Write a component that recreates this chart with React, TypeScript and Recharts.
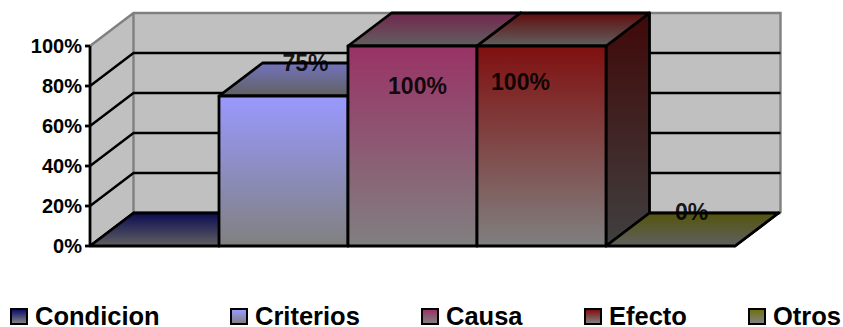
import React from "react";
import { BarChart, Bar, XAxis, YAxis, Legend, ReferenceArea, LabelList } from "recharts";

const seriesNames = ["Condicion", "Criterios", "Causa", "Efecto", "Otros"];
const seriesValues = [0, 75, 100, 100, 0];
const seriesColors = ["#10106e", "#9999ff", "#993366", "#801010", "#707010"];
const yTicks = [0, 20, 40, 60, 80, 100];

// Label nudges from the centre of each bar's front edge, in pixels.
const labelShiftX = [0, 22, 5, -21, 21];
const labelShiftY = [0, -33, 40, 36, -34];
// The first series sits behind its neighbour and carries no visible label.
const labelShown = [false, true, true, true, true];
// Left edge of each legend entry, in pixels.
const legendLeft = [10, 230, 421, 584, 748];

const row: Record<string, number | string> = { name: "Evaluacion" };
seriesNames.forEach((n, i) => {
  row[n] = seriesValues[i];
});
const chartData = [row];

const DEPTH_X = 43.5;
const DEPTH_Y = 33;
const FONT = "'Liberation Sans', Arial, sans-serif";
const EDGE = 2.8;

function scaleColor(hex: string, k: number) {
  const v = parseInt(hex.slice(1), 16);
  const c = [(v >> 16) & 255, (v >> 8) & 255, v & 255].map((p) => Math.round(p * k));
  return `rgb(${c.join(",")})`;
}

// Back wall, side wall and their gridlines, all sized from the plot's value range.
function Walls(props: any) {
  const { x, y, width, height } = props;
  const bx = x + DEPTH_X;
  const by = y - DEPTH_Y;
  return (
    <g>
      <polygon points={`${bx},${by} ${bx + width},${by} ${bx + width},${by + height} ${bx},${by + height}`} fill="#c0c0c0" />
      <polygon points={`${x},${y} ${bx},${by} ${bx},${by + height} ${x},${y + height}`} fill="#c0c0c0" />
      <path
        d={`M${x},${y} L${bx},${by} L${bx + width},${by} L${bx + width},${by + height} M${bx},${by} L${bx},${by + height}`}
        fill="none"
        stroke="#808080"
        strokeWidth={2.4}
      />
      {yTicks.slice(0, -1).map((t) => {
        const ty = y + height * (1 - t / 100);
        return (
          <path
            key={t}
            d={`M${x},${ty} L${bx},${ty - DEPTH_Y} L${bx + width},${ty - DEPTH_Y}`}
            fill="none"
            stroke="#000"
            strokeWidth={2.4}
          />
        );
      })}
    </g>
  );
}

// Extruded column: front face, top face and right-hand side face.
function Column(props: any) {
  const { x, y, width, height, index } = props;
  const r = x + width;
  const b = y + height;
  return (
    <g stroke="#000" strokeWidth={EDGE} strokeLinejoin="round">
      <polygon
        points={`${r},${y} ${r + DEPTH_X},${y - DEPTH_Y} ${r + DEPTH_X},${b - DEPTH_Y} ${r},${b}`}
        fill={`url(#side${index})`}
      />
      <polygon
        points={`${x},${y} ${x + DEPTH_X},${y - DEPTH_Y} ${r + DEPTH_X},${y - DEPTH_Y} ${r},${y}`}
        fill={`url(#top${index})`}
      />
      {height > 0 && <rect x={x} y={y} width={width} height={height} fill={`url(#front${index})`} />}
    </g>
  );
}

function makeValueLabel(index: number) {
  return function ValueLabel(props: any) {
    const { x, y, width, value } = props;
    return (
      <text
        x={x + width / 2 + labelShiftX[index]}
        y={y + labelShiftY[index]}
        textAnchor="middle"
        dominantBaseline="central"
        fontFamily={FONT}
        fontWeight="bold"
        fontSize={23}
        fill="#000"
        fillOpacity={0.9}
      >
        {value}%
      </text>
    );
  };
}

function LegendRow(props: any) {
  const { payload } = props;
  return (
    <div
      style={{
        position: "relative",
        height: 20,
        fontFamily: FONT,
        fontWeight: "bold",
        fontSize: 25.5,
        color: "#000",
        lineHeight: "20px",
      }}
    >
      {(payload || []).map((entry: any, i: number) => (
        <div
          key={entry.value}
          style={{ position: "absolute", left: legendLeft[i], top: 0, height: 20, display: "flex", alignItems: "center" }}
        >
          <span
            style={{
              display: "inline-block",
              boxSizing: "border-box",
              width: 18,
              height: 17,
              marginRight: 7,
              border: "2.5px solid #000",
              background: `linear-gradient(${entry.color}, #808080)`,
            }}
          />
          {entry.value}
        </div>
      ))}
    </div>
  );
}

export default function App() {
  return (
    <div style={{ position: "absolute", left: 0, top: 0, width: 843, height: 327, overflow: "hidden" }}>
      <BarChart
        width={843}
        height={327}
        data={chartData}
        margin={{ top: 46, right: 106, bottom: 61, left: 0 }}
        barCategoryGap={0}
        barGap={0}
      >
        <defs>
          {seriesColors.map((c, i) => (
            <React.Fragment key={i}>
              <linearGradient id={`front${i}`} x1="0" y1="0" x2="0" y2="1">
                <stop offset="0" stopColor={c} />
                <stop offset="1" stopColor="#808080" />
              </linearGradient>
              <linearGradient id={`top${i}`} x1="0" y1="0" x2="0" y2="1">
                <stop offset="0" stopColor={scaleColor(c, 0.75)} />
                <stop offset="1" stopColor="#606060" />
              </linearGradient>
              <linearGradient id={`side${i}`} x1="0" y1="0" x2="0" y2="1">
                <stop offset="0" stopColor={scaleColor(c, 0.5)} />
                <stop offset="1" stopColor="#404040" />
              </linearGradient>
            </React.Fragment>
          ))}
        </defs>
        <XAxis dataKey="name" tick={false} height={0} stroke="#000" strokeWidth={EDGE} tickLine={false} />
        <YAxis
          width={90}
          domain={[0, 100]}
          ticks={yTicks}
          interval={0}
          tickFormatter={(v: number) => `${v}%`}
          stroke="#000"
          strokeWidth={EDGE}
          tickSize={5}
          tickMargin={3}
          tick={{ fontFamily: FONT, fontWeight: "bold", fontSize: 20, fill: "#000", strokeWidth: 0 }}
        />
        <ReferenceArea y1={0} y2={100} ifOverflow="visible" shape={Walls} zIndex={-50} />
        {seriesNames.map((n, i) => (
          <Bar
            key={n}
            dataKey={n}
            fill={seriesColors[i]}
            isAnimationActive={false}
            shape={(p: any) => <Column {...p} index={i} />}
          >
            {labelShown[i] && <LabelList dataKey={n} content={makeValueLabel(i)} />}
          </Bar>
        ))}
        <Legend
          verticalAlign="bottom"
          height={20}
          itemSorter={null}
          content={LegendRow}
          wrapperStyle={{ left: 0, width: 843, top: 306, bottom: "auto" }}
        />
      </BarChart>
    </div>
  );
}
